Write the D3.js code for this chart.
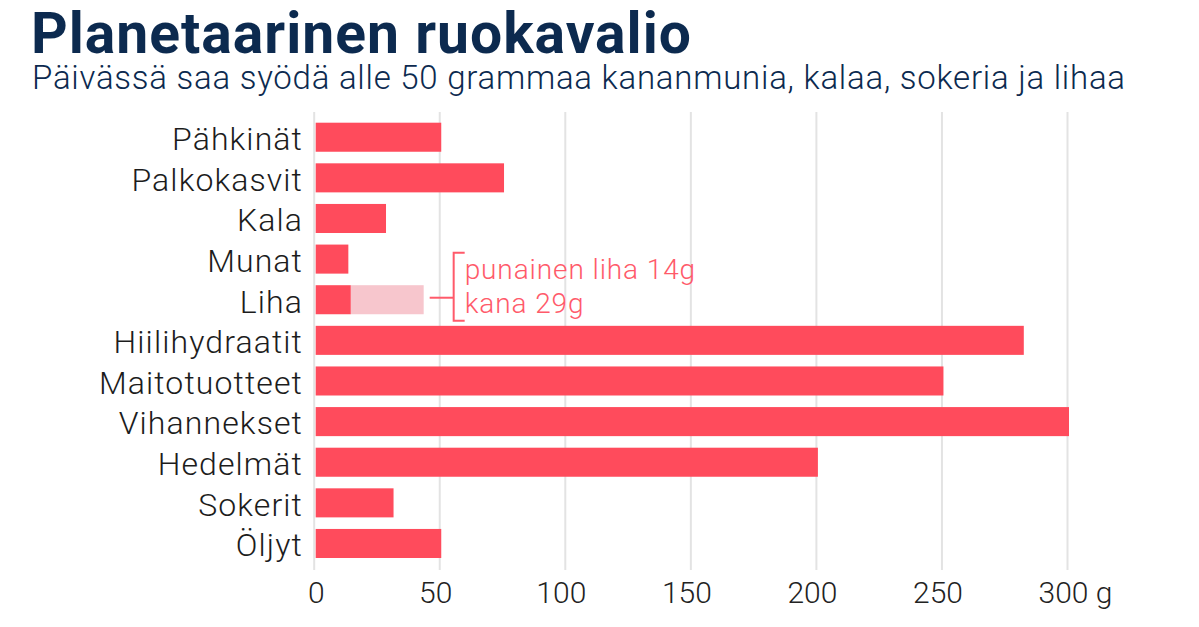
<!DOCTYPE html>
<html>
<head>
<meta charset="utf-8">
<script src="https://cdn.jsdelivr.net/npm/d3@7"></script>
<style>
  body { margin: 0; background: #fff; }
  text { font-family: "Roboto Light", Roboto, "Noto Sans", sans-serif; }
</style>
</head>
<body>
<div id="container"></div>
<script>
// Planetaarinen ruokavalio - grams per day

const categories = ["Pähkinät", "Palkokasvit", "Kala", "Munat", "Liha", "Hiilihydraatit",
    "Maitotuotteet", "Vihannekset", "Hedelmät", "Sokerit", "Öljyt"]
const grams = [50, 75, 28, 13, 14, 282, 250, 300, 200, 31, 50]
// liha split: red meat is in grams[], chicken stacked on top
const chickenGrams = [0, 0, 0, 0, 29, 0, 0, 0, 0, 0, 0]
const tickValues = [0, 50, 100, 150, 200, 250, 300]
const noteLines = ["punainen liha 14g", "kana 29g"]

const width = 1199,
    height = 627
const barColor = "#ff4b5c",
    chickenColor = "#f7c6cd",
    noteColor = "#ff5a6a",
    navy = "#0c2a4f"
const lightFont = "'Roboto Light', Roboto, sans-serif"

const svg = d3.select("#container").append("svg")
    .attr("width", width)
    .attr("height", height)

svg.append("text")
    .attr("x", 31).attr("y", 53)
    .text("Planetaarinen ruokavalio")
    .style("font-family", "Roboto, sans-serif")
    .style("font-size", "57px")
    .style("font-weight", 700)
    .style("letter-spacing", "1px")
    .style("fill", navy)

svg.append("text")
    .attr("x", 32).attr("y", 89)
    .text("Päivässä saa syödä alle 50 grammaa kananmunia, kalaa, sokeria ja lihaa")
    .style("font-size", "33px")
    .style("font-weight", 300)
    .style("letter-spacing", "0.75px")
    .style("fill", navy)

const x = d3.scaleLinear().domain([0, 300]).range([315.7, 1069])

const y = d3.scaleBand()
    .domain(categories)
    .range([122.7, 558])
    .paddingInner(0.285)
    .paddingOuter(0)

// gridlines
svg.append("g").attr("class", "grid")
    .selectAll("line")
    .data(tickValues)
    .enter()
    .append("line")
    .attr("x1", d => x(d) - 1.5).attr("x2", d => x(d) - 1.5)
    .attr("y1", 112).attr("y2", 570)
    .attr("stroke", "#e3e3e3")
    .attr("stroke-width", 2)

// x axis labels
const xAxis = d3.axisBottom(x)
    .tickValues(tickValues)
    .tickSize(0)
    .tickPadding(0)
    .tickFormat(d => d === 300 ? "300 g" : d)

const ax = svg.append("g")
    .attr("transform", "translate(0,582)")
    .call(xAxis)
ax.select(".domain").remove()
ax.selectAll("text")
    .attr("dy", "0.71em")
    .attr("text-anchor", d => d === 300 ? "start" : "middle")
    .attr("dx", d => d === 0 ? 0 : d === 300 ? -31 : -6)
    .style("font-size", "30px")
    .style("font-weight", 300)
    .style("font-family", lightFont)
    .style("fill", "#222")

// y axis labels
const yAxis = d3.axisLeft(y).tickSize(0).tickPadding(0)
const ay = svg.append("g")
    .attr("transform", "translate(303,0)")
    .call(yAxis)
ay.select(".domain").remove()
ay.selectAll("text")
    .attr("dy", "0.4em")
    .style("font-size", "32px")
    .style("font-weight", 300)
    .style("letter-spacing", "1.1px")
    .style("font-family", lightFont)
    .style("fill", "#1c1c1c")

// bars
svg.append("g").attr("class", "bars")
    .selectAll("rect")
    .data(categories)
    .enter()
    .append("rect")
    .attr("x", x(0))
    .attr("y", d => y(d))
    .attr("width", (d, i) => x(grams[i]) - x(0))
    .attr("height", y.bandwidth())
    .style("fill", barColor)

svg.append("g").attr("class", "chicken")
    .selectAll("rect")
    .data(categories.filter((d, i) => chickenGrams[i] > 0))
    .enter()
    .append("rect")
    .attr("x", d => x(grams[categories.indexOf(d)]))
    .attr("y", d => y(d))
    .attr("width", d => x(chickenGrams[categories.indexOf(d)]) - x(0))
    .attr("height", y.bandwidth())
    .style("fill", chickenColor)

// annotation bracket for Liha
const li = categories.indexOf("Liha")
const lihaEnd = x(grams[li] + chickenGrams[li])
const cy = y("Liha") + y.bandwidth() / 2
const bx = lihaEnd + 30
const note = svg.append("g").attr("class", "note")
    .attr("stroke", noteColor)
    .attr("stroke-width", 2)
    .attr("fill", "none")
note.append("line")
    .attr("x1", lihaEnd + 6).attr("x2", bx)
    .attr("y1", cy - 2).attr("y2", cy - 2)
note.append("path")
    .attr("d", `M${bx + 11},${cy - 47}H${bx}V${cy + 21}H${bx + 11}`)

svg.append("g")
    .selectAll("text")
    .data(noteLines)
    .enter()
    .append("text")
    .attr("x", bx + 11)
    .attr("y", (d, i) => cy - 21 + i * 34)
    .text(d => d)
    .style("font-size", "28px")
    .style("font-weight", 300)
    .style("letter-spacing", "0.9px")
    .style("fill", noteColor)
</script>
</body>
</html>
